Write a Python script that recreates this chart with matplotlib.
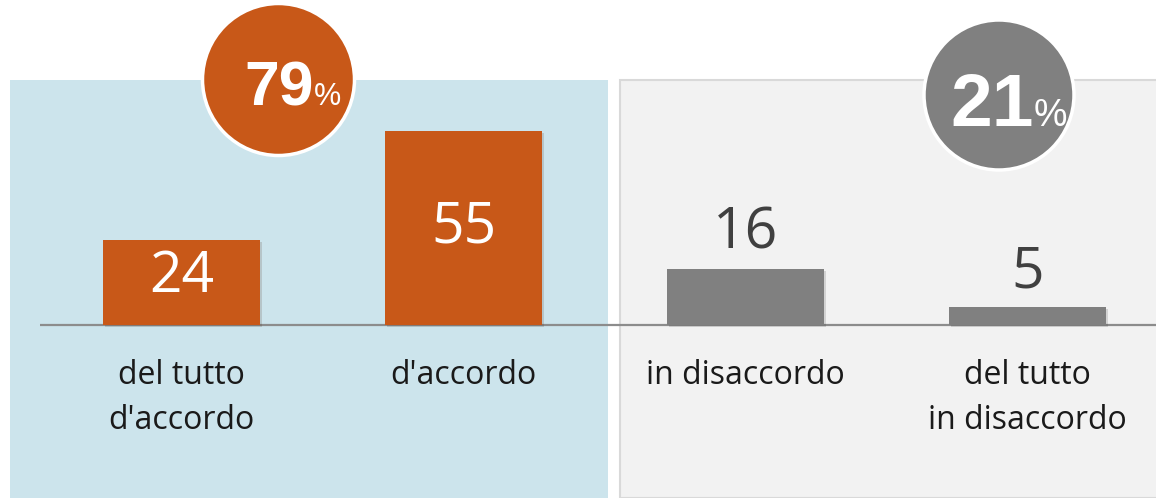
import matplotlib
matplotlib.use('Agg')
import matplotlib.pyplot as plt
from matplotlib.patches import Rectangle, Circle
import matplotlib.patheffects as pe

# Data
categories = ["del tutto\nd'accordo", "d'accordo", "in disaccordo", "del tutto\nin disaccordo"]
values = [24, 55, 16, 5]
bar_colors = ['#C85818', '#C85818', '#808080', '#808080']
totals = ['79', '21']

W, H = 1156, 498
fig = plt.figure(figsize=(W / 100, H / 100), dpi=100)
fig.patch.set_facecolor('white')


def fx(x):
    return x / W


def fy(y):
    return 1 - y / H


# background panels
fig.add_artist(Rectangle((fx(10), 0), fx(598), fy(80), transform=fig.transFigure,
                         facecolor='#CCE4EC', edgecolor='none', zorder=-2))
fig.add_artist(Rectangle((fx(620), 0), fx(560), fy(80), transform=fig.transFigure,
                         facecolor='#F2F2F2', edgecolor='#D9D9D9', lw=1.5, zorder=-2))

ax = fig.add_axes([fx(40), 0, 1 - fx(40), 1])
ax.set_facecolor('none')
ax.set_xlim(-0.5018, 3.4557)
ax.set_ylim(-49.05, 92.15)
ax.axis('off')

x = list(range(len(values)))
bars = ax.bar(x, values, width=0.5567, color=bar_colors, zorder=2)
for b in bars:
    b.set_path_effects([pe.SimplePatchShadow(offset=(1.5, -1.5), alpha=0.15), pe.Normal()])
ax.axhline(0, color='#8C8C8C', lw=1.6, zorder=1)

font = 'Open Sans'
for i, v in enumerate(values):
    if v >= 20:
        y = v - 10.5 if v < 30 else v / 2
        ax.text(i, y, str(v), ha='center', va='center', color='white',
                fontsize=41, family=font, zorder=3)
    else:
        ax.annotate(str(v), (i, v), xytext=(0, 14.5), textcoords='offset points',
                    ha='center', va='baseline', color='#404040',
                    fontsize=41, family=font, zorder=3)
    ax.text(i, -9.5, categories[i], ha='center', va='top', color='#1A1A1A',
            fontsize=23, family=font, linespacing=1.5, zorder=3)

# total circles
fig.add_artist(Circle((2.785, (H - 79.5) / 100), 0.76, transform=fig.dpi_scale_trans,
                      facecolor='#C85818', edgecolor='white', lw=2.5, zorder=3))
fig.add_artist(Circle((9.99, (H - 95) / 100), 0.75, transform=fig.dpi_scale_trans,
                      facecolor='#808080', edgecolor='white', lw=2.5, zorder=3))

fig.text(fx(314), fy(105), totals[0], ha='right', va='baseline', color='white',
         fontsize=45, fontweight='bold', family='Liberation Sans', zorder=5)
fig.text(fx(314), fy(105), '%', ha='left', va='baseline', color='white',
         fontsize=22, family='Liberation Sans', zorder=5)
fig.text(fx(1034), fy(126), totals[1], ha='right', va='baseline', color='white',
         fontsize=54, fontweight='bold', family='Liberation Sans', zorder=5)
fig.text(fx(1034), fy(126), '%', ha='left', va='baseline', color='white',
         fontsize=27, family='Liberation Sans', zorder=5)

fig.savefig('out.png', dpi=100)
